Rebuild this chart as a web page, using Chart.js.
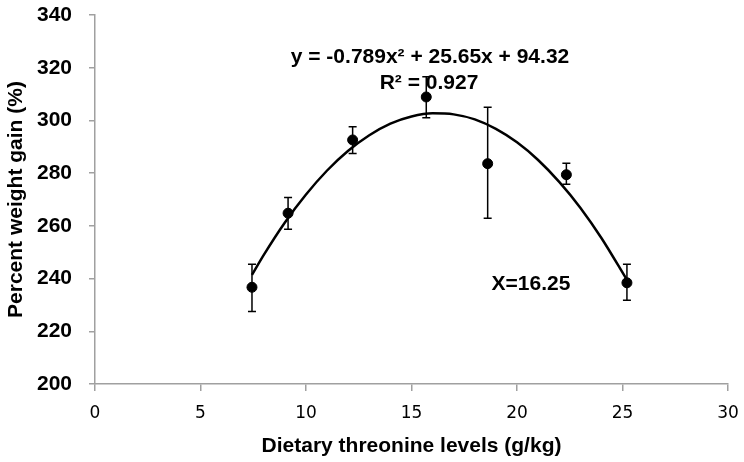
<!DOCTYPE html>
<html lang="en">
<head>
  <meta charset="UTF-8">
  <script src="https://cdn.jsdelivr.net/npm/chart.js@4.4.0/dist/chart.umd.min.js"></script>
  <style>
    html, body { margin: 0; padding: 0; background: #fff; }
    #wrap { width: 744px; height: 462px; position: relative; }
  </style>
</head>
<body>
  <div id="wrap"><canvas id="wgChart"></canvas></div>
  <script>
    // threonine levels (g/kg) and measured weight gain (%)
    const levels = [7.44, 9.15, 12.21, 15.7, 18.61, 22.34, 25.21];
    const gain = [236.7, 264.8, 292.6, 308.9, 283.6, 279.4, 238.4];
    const errHigh = [245.4, 270.8, 297.6, 316.6, 305.0, 283.8, 245.4];
    const errLow = [227.5, 258.7, 287.5, 301.0, 262.9, 275.8, 231.8];

    // fitted curve
    const curveX = [7.44, 8, 9, 10, 11, 12, 13, 14, 15, 16, 17, 18, 19, 20, 21, 22, 23, 24, 25.21];
    const curveY = [241.4, 249, 261.3, 271.9, 281, 288.5, 294.4, 298.8, 301.5, 302.7, 302.3, 300.4, 296.8, 291.7, 285, 276.7, 266.9, 255.4, 239.5];

    const xTicks = [0, 5, 10, 15, 20, 25, 30];
    const yTicks = [200, 220, 240, 260, 280, 300, 320, 340];

    const FONT = '"Liberation Sans", Arial, sans-serif';

    const errorBars = {
      id: 'errorBars',
      afterDatasetsDraw(chart) {
        const c = chart.ctx, xs = chart.scales.x, ys = chart.scales.y;
        c.save();
        c.strokeStyle = '#000';
        c.lineWidth = 1.5;
        levels.forEach((lv, i) => {
          const px = xs.getPixelForValue(lv);
          const top = ys.getPixelForValue(errHigh[i]);
          const bot = ys.getPixelForValue(errLow[i]);
          c.beginPath();
          c.moveTo(px, top); c.lineTo(px, bot);
          c.moveTo(px - 4, top); c.lineTo(px + 4, top);
          c.moveTo(px - 4, bot); c.lineTo(px + 4, bot);
          c.stroke();
        });
        // text notes
        c.fillStyle = '#000';
        c.font = 'bold 21px ' + FONT;
        c.textAlign = 'center';
        c.textBaseline = 'middle';
        c.fillText('y = -0.789x² + 25.65x + 94.32', 430, 57);
        c.fillText('R² = 0.927', 429, 83);
        c.fillText('X=16.25', 531, 284);
        c.restore();
      }
    };

    new Chart(document.getElementById('wgChart'), {
      type: 'scatter',
      data: {
        datasets: [
          {
            label: 'curve',
            type: 'line',
            data: curveX.map((x, i) => ({ x: x, y: curveY[i] })),
            borderColor: '#000',
            borderWidth: 2.5,
            pointRadius: 0,
            cubicInterpolationMode: 'monotone',
            fill: false
          },
          {
            label: 'gain',
            data: levels.map((x, i) => ({ x: x, y: gain[i] })),
            backgroundColor: '#000',
            borderColor: '#000',
            pointRadius: 5
          }
        ]
      },
      options: {
        responsive: true,
        maintainAspectRatio: false,
        animation: false,
        layout: { padding: { top: 15, right: 16, left: 0, bottom: 0 } },
        plugins: { legend: { display: false }, tooltip: { enabled: false } },
        scales: {
          x: {
            type: 'linear',
            min: 0, max: 30,
            afterBuildTicks: s => { s.ticks = xTicks.map(v => ({ value: v })); },
            afterFit: s => { s.height = 78; s.paddingRight = 0; s.paddingLeft = 0; },
            grid: { drawOnChartArea: false, drawTicks: true, tickLength: 7, color: '#a0a0a0', lineWidth: 1.5 },
            border: { color: '#a0a0a0', width: 1.5 },
            ticks: { color: '#000', padding: 12, font: { family: '"DejaVu Sans", sans-serif', size: 17 } },
            title: { display: true, text: 'Dietary threonine levels (g/kg)', color: '#000', padding: { top: 4, bottom: 3 }, font: { family: FONT, size: 21, weight: 'bold' } }
          },
          y: {
            min: 200, max: 340,
            afterBuildTicks: s => { s.ticks = yTicks.map(v => ({ value: v })); },
            afterFit: s => { s.width = 95; s.paddingTop = 0; s.paddingBottom = 0; },
            grid: { drawOnChartArea: false, drawTicks: true, tickLength: 6, color: '#a0a0a0', lineWidth: 1.5 },
            border: { color: '#a0a0a0', width: 1.5 },
            ticks: { color: '#000', padding: 17, font: { family: FONT, size: 21, weight: 'bold' } },
            title: { display: true, text: 'Percent weight gain (%)', color: '#000', padding: { top: 4, bottom: 4 }, font: { family: FONT, size: 21, weight: 'bold' } }
          }
        }
      },
      plugins: [errorBars]
    });
  </script>
</body>
</html>
